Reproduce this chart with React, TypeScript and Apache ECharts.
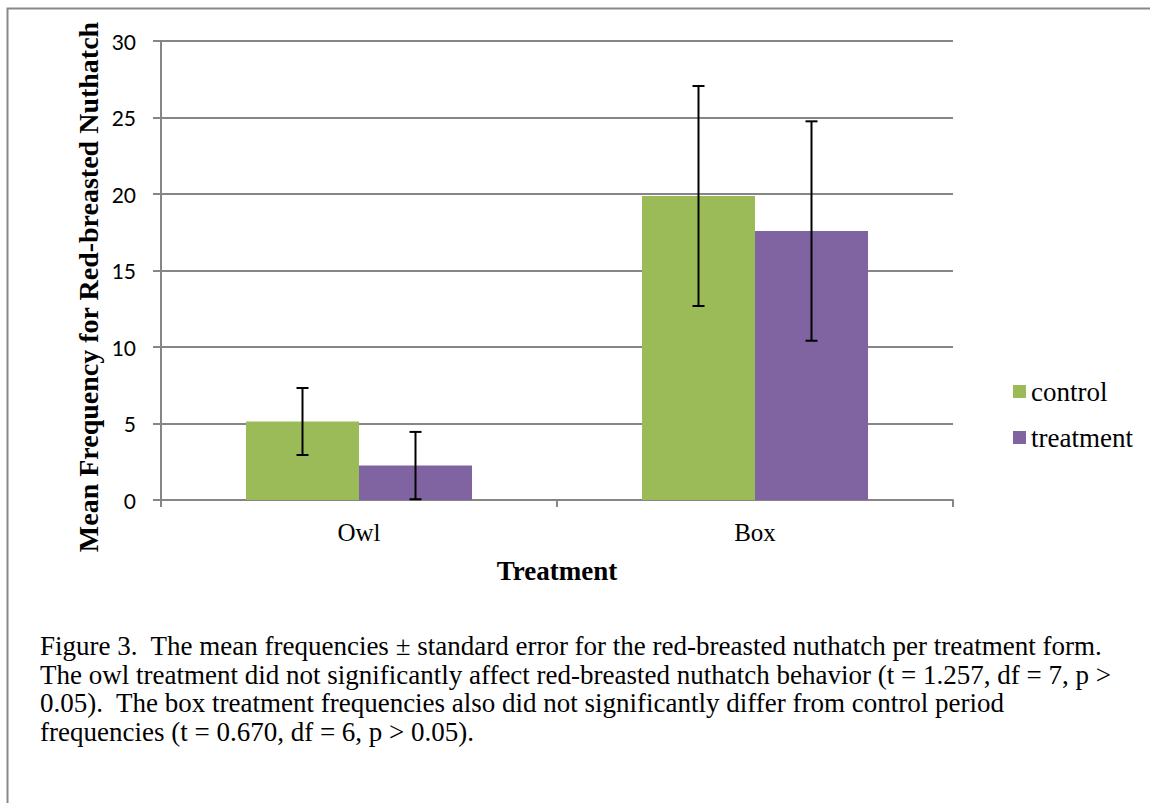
import React, { useEffect, useRef } from "react";
import * as echarts from "echarts";

const categories = ["Owl", "Box"];
const controlMeans = [5.13, 19.87];
const controlSE = [2.19, 7.19];
const treatmentMeans = [2.25, 17.58];
const treatmentSE = [2.2, 7.17];
const seriesNames = ["control", "treatment"];
const yTicks = [0, 5, 10, 15, 20, 25, 30];
const captionLines = [
  "Figure 3.  The mean frequencies \u00b1 standard error for the red-breasted nuthatch per treatment form.",
  "The owl treatment did not significantly affect red-breasted nuthatch behavior (t = 1.257, df = 7, p >",
  "0.05).  The box treatment frequencies also did not significantly differ from control period",
  "frequencies (t = 0.670, df = 6, p > 0.05).",
];

const GREEN = "#9BBB59";
const PURPLE = "#8064A2";
const GRID = "#868686";
const SERIF = "'Liberation Serif', 'Times New Roman', serif";
const BAR_W = 113;

function errorSeries(means: number[], ses: number[], offset: number) {
  return {
    type: "custom",
    silent: true,
    z: 5,
    data: means.map((m, i) => [i, m - ses[i], m + ses[i]]),
    renderItem: (params: any, api: any) => {
      const i = api.value(0);
      const lo = api.coord([i, api.value(1)]);
      const hi = api.coord([i, api.value(2)]);
      const x = lo[0] + offset;
      const cap = 6;
      const style = { stroke: "#000", lineWidth: 2 };
      return {
        type: "group",
        children: [
          { type: "line", shape: { x1: x, y1: lo[1], x2: x, y2: hi[1] }, style },
          { type: "line", shape: { x1: x - cap, y1: lo[1], x2: x + cap, y2: lo[1] }, style },
          { type: "line", shape: { x1: x - cap, y1: hi[1], x2: x + cap, y2: hi[1] }, style },
        ],
      };
    },
  };
}

export default function App() {
  const ref = useRef<HTMLDivElement>(null);
  useEffect(() => {
    if (!ref.current) return;
    const chart = echarts.init(ref.current, null, { renderer: "svg" });
    chart.setOption({
      animation: false,
      backgroundColor: "#fff",
      grid: { left: 161, right: 197, top: 41, bottom: 303 },
      legend: {
        orient: "vertical",
        left: 1008,
        top: 373,
        itemWidth: 13,
        itemHeight: 13,
        itemGap: 19,
        icon: "rect",
        data: seriesNames,
        textStyle: { fontFamily: SERIF, fontSize: 27, color: "#000" },
      },
      xAxis: {
        type: "category",
        data: categories,
        axisLine: { lineStyle: { color: GRID, width: 2 } },
        axisTick: { show: true, length: 7, lineStyle: { color: GRID, width: 2 } },
        axisLabel: { fontFamily: SERIF, fontSize: 25, color: "#000", margin: 20 },
      },
      yAxis: {
        type: "value",
        min: yTicks[0],
        max: yTicks[yTicks.length - 1],
        interval: 5,
        axisLine: { show: true, lineStyle: { color: GRID, width: 2 } },
        axisTick: { show: true, length: 8, lineStyle: { color: GRID, width: 2 } },
        splitLine: { lineStyle: { color: GRID, width: 2 } },
        axisLabel: { fontFamily: "Lato, 'Open Sans', sans-serif", fontSize: 21, color: "#000", margin: 25 },
      },
      series: [
        {
          name: seriesNames[0],
          type: "bar",
          data: controlMeans,
          barWidth: BAR_W,
          barGap: "0%",
          itemStyle: { color: GREEN },
        },
        {
          name: seriesNames[1],
          type: "bar",
          data: treatmentMeans,
          barWidth: BAR_W,
          barGap: "0%",
          itemStyle: { color: PURPLE },
        },
        errorSeries(controlMeans, controlSE, -BAR_W / 2),
        errorSeries(treatmentMeans, treatmentSE, BAR_W / 2),
      ],
      graphic: [
        {
          type: "rect",
          shape: { x: 7.5, y: 8.5, width: 1300, height: 1000 },
          style: { fill: "none", stroke: "#888", lineWidth: 2 },
          silent: true,
        },
        {
          type: "text",
          x: 88,
          y: 287,
          rotation: Math.PI / 2,
          style: {
            text: "Mean Frequency for Red-breasted Nuthatch",
            font: `bold 28px ${SERIF}`,
            fill: "#000",
            textAlign: "center",
            textVerticalAlign: "middle",
          },
        },
        {
          type: "text",
          x: 557,
          y: 571,
          style: {
            text: "Treatment",
            font: `bold 27px ${SERIF}`,
            fill: "#000",
            textAlign: "center",
            textVerticalAlign: "middle",
          },
        },
        ...captionLines.map((t, i) => ({
          type: "text",
          x: 40,
          y: 646 + i * 28.5,
          style: {
            text: t,
            font: `27px ${SERIF}`,
            fill: "#000",
            textAlign: "left",
            textVerticalAlign: "middle",
          },
        })),
      ],
    });
    return () => chart.dispose();
  }, []);
  return (
    <div
      ref={ref}
      style={{ position: "absolute", left: 0, top: 0, width: 1150, height: 803 }}
    />
  );
}
